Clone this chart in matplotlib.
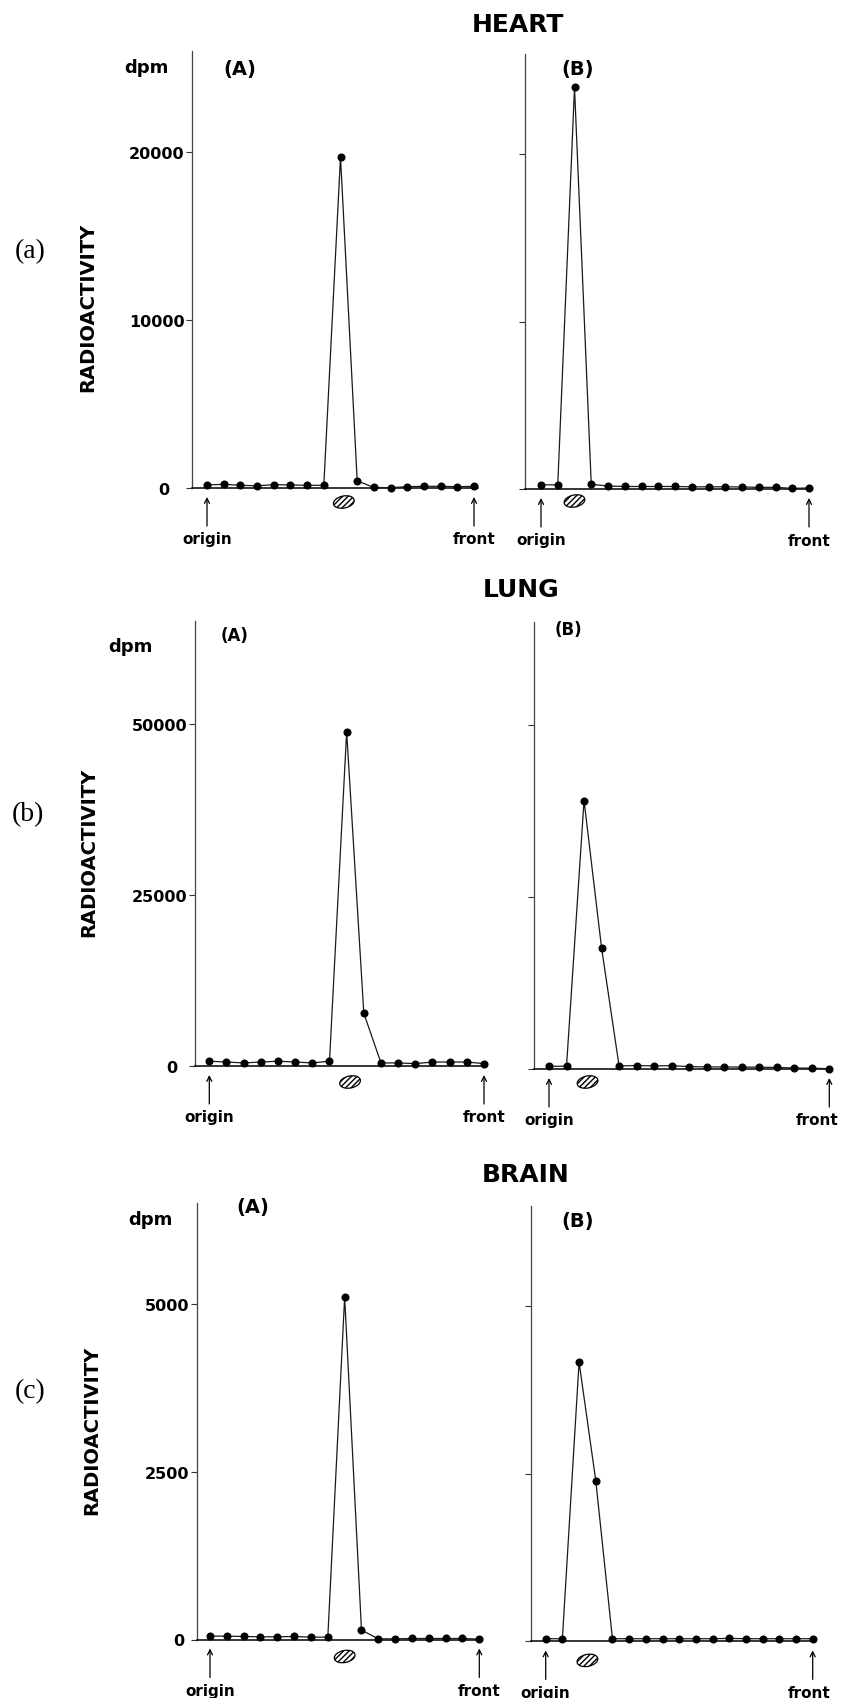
import matplotlib
matplotlib.use('Agg')
import matplotlib.pyplot as plt
from matplotlib.patches import Ellipse
from matplotlib import transforms

# ---------------- data ----------------
fractions = list(range(17))          # TLC fractions, origin (0) to front (16)

heart_A = [180, 220, 160, 130, 200, 180, 160, 160, 19700, 430, 30, 20, 80, 100, 100, 80, 100]
heart_B = [250, 250, 24000, 280, 180, 150, 150, 150, 150, 130, 130, 130, 120, 100, 100, 40, 60]
lung_A = [700, 580, 450, 580, 700, 580, 450, 700, 48800, 7700, 450, 450, 350, 580, 580, 580, 350]
lung_B = [400, 400, 39000, 17600, 450, 500, 450, 480, 350, 300, 300, 280, 260, 220, 150, 120, 50]
brain_A = [50, 50, 45, 40, 40, 45, 35, 35, 5100, 140, 10, 10, 15, 15, 15, 15, 5]
brain_B = [40, 40, 4170, 2400, 40, 40, 40, 40, 40, 40, 40, 45, 40, 40, 40, 40, 40]

organs = ['HEART', 'LUNG', 'BRAIN']
row_labels = ['(a)', '(b)', '(c)']
panel_labels = ['(A)', '(B)']
y_max = [26000, 65000, 6500]
y_ticks = [[0, 10000, 20000], [0, 25000, 50000], [0, 2500, 5000]]
y_ticklabels = [['0', '10000', '20000'], ['0', '25000', '50000'], ['0', '2500', '5000']]
standard_pos = [[8.2, 2.0], [8.2, 2.2], [8.0, 2.5]]   # position of the reference spot
series = [[heart_A, heart_B], [lung_A, lung_B], [brain_A, brain_B]]

# ---------------- layout (pixels) ----------------
W, H = 846, 1699
DPI = 100
fig = plt.figure(figsize=(W / DPI, H / DPI), dpi=DPI)
fig.patch.set_facecolor('white')

# (spine_x, x_first_point, x_last_point, x_axis_end, y_top, y_zero)
boxes = [
    [(192, 207, 474, 478, 52, 489), (525, 541, 809, 812, 55, 490)],
    [(195, 209.3, 484, 487, 622, 1067), (534, 549, 829.3, 832, 622.5, 1070)],
    [(196.7, 210, 479.3, 482, 1204, 1640.5), (530.7, 545.7, 812.7, 815, 1207, 1642.4)],
]
title_pos = [(518, 25), (521, 590), (526, 1175)]
rowlab_pos = [(30, 252), (28, 815), (30, 1392)]
radio_pos = [(88, 307), (89, 852), (92, 1430)]
dpm_pos = [(146, 68), (130, 647), (150, 1220)]
panel_pos = [[(240, 70, 14), (578, 70, 14)],
             [(235, 636, 12), (568, 630, 12)],
             [(253, 1208, 14), (578, 1221, 14)]]
ell_off = [[14, 12], [16, 13], [17, 19]]
zero_shift = [15, 10, 5]              # extra gap of the "0" tick label (px)
front_shift = [[0, 0], [0, -12], [0, -4]]

SANS = 'DejaVu Sans'
PAD = 1.5


def fx(x):
    return x / W


def fy(y):
    return 1 - y / H


def px_offset(ax, dy_px, dx_px=0):
    return ax.transData + transforms.ScaledTranslation(dx_px / DPI, -dy_px / DPI,
                                                       fig.dpi_scale_trans)


for r in range(3):
    for c in range(2):
        sx, x0, x16, xe, yt, yz = boxes[r][c]
        dx = (x16 - x0) / 16.0
        ax = fig.add_axes([fx(sx), fy(yz), (xe - sx) / W, (yz - yt) / H])
        ax.set_xlim((sx - x0) / dx, 16 + (xe - x16) / dx)
        ax.set_ylim(0, y_max[r])
        ax.patch.set_alpha(0)
        for s in ['top', 'right']:
            ax.spines[s].set_visible(False)
        ax.spines['left'].set_color('#444444')
        ax.spines['left'].set_linewidth(0.9)
        ax.spines['bottom'].set_color('black')
        ax.spines['bottom'].set_linewidth(1.1)
        ax.set_xticks([])
        ax.set_yticks(y_ticks[r])
        if c == 0:
            ax.set_yticklabels(y_ticklabels[r], fontsize=11.5, fontweight='bold', family=SANS)
        else:
            ax.set_yticklabels([])
        ax.tick_params(axis='y', direction='out', length=4, width=0.8, pad=PAD, color='#333333')
        if c == 0:
            ax.yaxis.get_major_ticks()[0].set_pad(PAD + zero_shift[r] * 72.0 / DPI)

        ax.plot(fractions, series[r][c], color='#1a1a1a', lw=0.9,
                marker='o', markersize=4.8, markerfacecolor='black',
                markeredgecolor='black', clip_on=False, zorder=3)

        # origin / front arrows and labels
        for xi, lab, sh in [(fractions[0], 'origin', 0), (fractions[-1], 'front', front_shift[r][c])]:
            ax.annotate('', xy=(xi, 0), xycoords=px_offset(ax, 9),
                        xytext=(xi, 0), textcoords=px_offset(ax, 38),
                        arrowprops=dict(arrowstyle='->', lw=0.9, color='black',
                                        shrinkA=0, shrinkB=0,
                                        mutation_scale=9),
                        annotation_clip=False)
            ax.text(xi, 0, lab, transform=px_offset(ax, 51, sh), ha='center', va='center',
                    fontsize=11, fontweight='bold', family=SANS)

        # hatched reference spot
        xs = standard_pos[r][c]
        tr = fig.dpi_scale_trans + transforms.ScaledTranslation(xs, 0, ax.transData)
        e = Ellipse((0, -ell_off[r][c] / DPI), 21 / DPI, 12 / DPI, angle=12,
                    facecolor='white', edgecolor='black', hatch='//////', lw=0.9,
                    transform=tr, clip_on=False)
        ax.add_patch(e)

        px, py, fs = panel_pos[r][c]
        fig.text(fx(px), fy(py), panel_labels[c], ha='center', va='center',
                 fontsize=fs, fontweight='bold', family=SANS)

    tx, ty = title_pos[r]
    fig.text(fx(tx), fy(ty), organs[r], ha='center', va='center', fontsize=18,
             fontweight='bold', family=SANS)
    lx, ly = rowlab_pos[r]
    fig.text(fx(lx), fy(ly), row_labels[r], ha='center', va='center', fontsize=20,
             family='Liberation Serif')
    rx, ry = radio_pos[r]
    fig.text(fx(rx), fy(ry), 'RADIOACTIVITY', ha='center', va='center', rotation=90,
             fontsize=14, fontweight='bold', family=SANS)
    dx_, dy_ = dpm_pos[r]
    fig.text(fx(dx_), fy(dy_), 'dpm', ha='center', va='center', fontsize=13,
             fontweight='bold', family=SANS)

fig.savefig('out.png', dpi=DPI, facecolor='white')
